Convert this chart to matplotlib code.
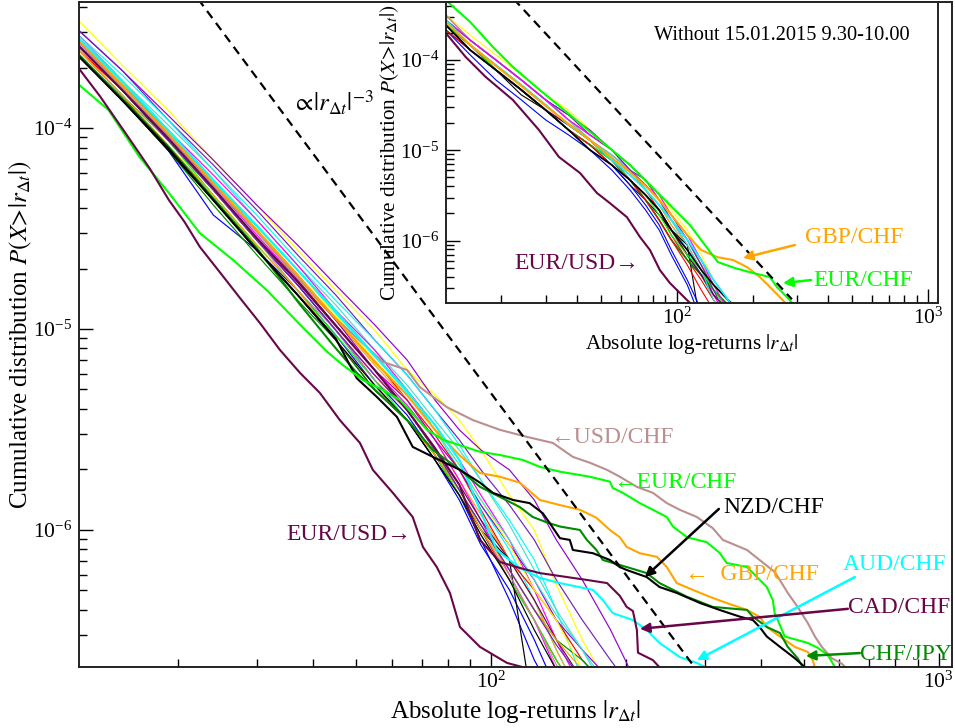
import numpy as np
import matplotlib
matplotlib.use('Agg')
import matplotlib.pyplot as plt
from matplotlib.ticker import NullFormatter

plt.rcParams['font.family'] = ['Liberation Serif', 'DejaVu Serif']
plt.rcParams['mathtext.fontset'] = 'stix'

# grace-like palette
BLACK, RED, GREEN, BLUE = '#000000', '#FF0000', '#00FF00', '#0000FF'
YELLOW, BROWN, VIOLET, CYAN = '#FFFF00', '#BC8F8F', '#9400D3', '#00FFFF'
MAGENTA, ORANGE, INDIGO, MAROON = '#FF00FF', '#FFA500', '#7220BC', '#670748'
TURQ, GREEN4 = '#40E0D0', '#008B00'

# ---------------- main panel: unlabelled pairs on a shared grid ----------------
main_x = [12, 15, 19, 24, 30, 37, 45, 55, 65, 75, 85, 95, 110, 125, 140, 160, 185, 215, 238, 264]

m_yellow = [3.44e-4, 2.06e-4, 1.23e-4, 6.93e-5, 4.14e-5, 2.47e-5, 1.56e-5, 9.89e-6, 6.25e-6, 4.69e-6, 3.52e-6, 2.50e-6, 1.49e-6, 1.00e-6, 5.32e-7, 2.84e-7, 1.60e-7]
m_violet = [3.07e-4, 1.94e-4, 1.16e-4, 6.93e-5, 4.14e-5, 2.62e-5, 1.66e-5, 1.05e-5, 7.01e-6, 4.43e-6, 3.15e-6, 2.50e-6, 1.99e-6, 1.41e-6, 8.92e-7, 5.64e-7, 3.18e-7, 1.60e-7]
m_indigo = [3.07e-4, 1.94e-4, 1.10e-4, 6.55e-5, 3.91e-5, 2.34e-5, 1.48e-5, 8.82e-6, 5.90e-6, 3.95e-6, 2.81e-6, 1.99e-6, 1.33e-6, 8.92e-7, 5.64e-7, 3.56e-7, 2.25e-7, 1.43e-7]
m_cyan = [2.90e-4, 1.84e-4, 1.10e-4, 6.18e-5, 3.69e-5, 2.20e-5, 1.39e-5, 8.82e-6, 5.90e-6, 3.95e-6, 2.65e-6, 1.77e-6, 1.12e-6, 7.09e-7, 4.00e-7, 1.79e-7]
m_turq = [2.74e-4, 1.73e-4, 1.04e-4, 6.18e-5, 3.49e-5, 2.08e-5, 1.32e-5, 7.87e-6, 5.26e-6, 3.52e-6, 2.50e-6, 1.77e-6, 1.06e-6, 6.32e-7, 4.00e-7, 2.53e-7, 1.43e-7]
m_magenta = [2.90e-4, 1.73e-4, 9.78e-5, 5.84e-5, 3.49e-5, 2.08e-5, 1.24e-5, 7.87e-6, 4.97e-6, 3.33e-6, 2.23e-6, 1.49e-6, 8.92e-7, 5.03e-7, 2.84e-7, 1.60e-7]
m_cyan2 = [2.74e-4, 1.73e-4, 9.78e-5, 5.51e-5, 3.29e-5, 1.97e-5, 1.24e-5, 7.43e-6, 4.97e-6, 3.15e-6, 1.99e-6, 1.33e-6, 7.95e-7, 4.48e-7, 2.53e-7, 1.43e-7]
m_red = [2.74e-4, 1.64e-4, 9.78e-5, 5.51e-5, 3.11e-5, 1.86e-5, 1.11e-5, 7.01e-6, 4.43e-6, 2.97e-6, 1.99e-6, 1.26e-6, 7.09e-7, 5.03e-7, 3.56e-7, 2.25e-7, 1.60e-7]
m_orange = [2.59e-4, 1.64e-4, 9.24e-5, 5.21e-5, 3.11e-5, 1.75e-5, 1.11e-5, 6.62e-6, 4.43e-6, 2.81e-6, 1.77e-6, 1.19e-6, 7.09e-7, 4.48e-7, 2.53e-7, 1.43e-7]
m_magenta2 = [2.59e-4, 1.55e-4, 9.24e-5, 5.21e-5, 2.94e-5, 1.75e-5, 1.05e-5, 6.25e-6, 4.18e-6, 2.81e-6, 1.77e-6, 1.12e-6, 5.97e-7, 3.56e-7, 2.01e-7]
m_violet2 = [2.74e-4, 1.64e-4, 9.78e-5, 5.51e-5, 3.11e-5, 1.86e-5, 1.11e-5, 6.25e-6, 4.43e-6, 2.81e-6, 1.99e-6, 1.33e-6, 8.42e-7, 5.64e-7, 3.56e-7, 2.53e-7, 1.79e-7]
m_maroon = [2.59e-4, 1.55e-4, 8.72e-5, 4.92e-5, 2.77e-5, 1.75e-5, 1.05e-5, 6.25e-6, 3.95e-6, 2.50e-6, 1.68e-6, 1.12e-6, 7.09e-7, 4.48e-7, 2.84e-7, 1.79e-7]
m_red2 = [2.45e-4, 1.55e-4, 8.72e-5, 4.92e-5, 2.77e-5, 1.66e-5, 9.89e-6, 5.90e-6, 3.95e-6, 2.50e-6, 1.58e-6, 1.00e-6, 5.64e-7, 3.56e-7, 2.25e-7, 1.43e-7]
m_blue = [2.45e-4, 1.46e-4, 7.78e-5, 3.69e-5, 2.47e-5, 1.56e-5, 9.34e-6, 5.26e-6, 3.52e-6, 2.23e-6, 1.41e-6, 8.42e-7, 5.03e-7, 2.84e-7, 1.60e-7]
m_blue2 = [2.74e-4, 1.55e-4, 8.72e-5, 4.92e-5, 2.77e-5, 1.66e-5, 9.89e-6, 5.57e-6, 3.73e-6, 2.36e-6, 1.49e-6, 8.92e-7, 4.48e-7, 2.25e-7, 1.43e-7]
m_black = [2.31e-4, 1.38e-4, 7.78e-5, 4.38e-5, 2.47e-5, 1.48e-5, 8.82e-6, 4.97e-6, 3.52e-6, 2.23e-6, 1.49e-6, 1.00e-6, 7.09e-7, 1.14e-7]
m_green4 = [2.31e-4, 1.38e-4, 7.78e-5, 4.14e-5, 2.34e-5, 1.39e-5, 8.82e-6, 4.97e-6, 3.52e-6, 2.36e-6, 1.58e-6, 1.06e-6, 6.32e-7, 4.00e-7, 2.84e-7, 2.25e-7, 1.60e-7]
m_green = [2.45e-4, 1.46e-4, 8.72e-5, 4.64e-5, 2.62e-5, 1.56e-5, 9.34e-6, 5.57e-6, 3.52e-6, 2.36e-6, 1.49e-6, 9.45e-7, 5.64e-7, 3.56e-7, 2.25e-7, 1.43e-7]
m_brown = [2.45e-4, 1.46e-4, 8.72e-5, 4.92e-5, 2.77e-5, 1.56e-5, 9.89e-6, 5.57e-6, 3.95e-6, 2.50e-6, 1.58e-6, 1.00e-6, 5.97e-7, 3.56e-7, 2.13e-7, 1.43e-7]
m_orange2 = [2.45e-4, 1.46e-4, 8.24e-5, 4.64e-5, 2.62e-5, 1.56e-5, 8.82e-6, 5.26e-6, 3.52e-6, 2.36e-6, 1.58e-6, 1.00e-6, 6.32e-7, 4.00e-7, 2.84e-7, 2.01e-7]
m_yellow2 = [2.74e-4, 1.73e-4, 9.78e-5, 5.51e-5, 3.11e-5, 1.97e-5, 1.17e-5, 7.01e-6, 4.69e-6, 3.15e-6, 2.11e-6, 1.41e-6, 8.42e-7, 5.03e-7, 3.56e-7, 2.01e-7]
m_turq2 = [2.90e-4, 1.73e-4, 9.78e-5, 5.51e-5, 3.29e-5, 1.97e-5, 1.24e-5, 7.43e-6, 4.97e-6, 3.15e-6, 2.11e-6, 1.41e-6, 8.92e-7, 5.64e-7, 3.77e-7, 2.53e-7, 1.60e-7]
m_indigo2 = [2.59e-4, 1.55e-4, 8.72e-5, 4.92e-5, 2.77e-5, 1.66e-5, 9.89e-6, 5.90e-6, 3.95e-6, 2.50e-6, 1.58e-6, 1.06e-6, 6.32e-7, 4.00e-7, 2.68e-7, 1.79e-7]
m_black2 = [2.31e-4, 1.38e-4, 7.78e-5, 4.38e-5, 2.47e-5, 1.48e-5, 8.82e-6, 5.26e-6, 3.52e-6, 2.23e-6, 1.49e-6, 9.45e-7, 5.64e-7, 3.18e-7, 2.01e-7]

# ---------------- main panel: labelled pairs ----------------
eurusd_x = [12.0, 13.4, 15.2, 17.3, 19.1, 20.7, 22.4, 24.8, 27.5, 30.5, 33.8, 37.5, 41.5, 46.0, 51.0, 54.5, 60.4, 66.9, 70.5, 75.7, 81.0, 85.3, 94.5, 108.6, 128.6]
eurusd_y = [1.99e-4, 1.44e-4, 9.6e-5, 6.3e-5, 4.38e-5, 3.41e-5, 2.56e-5, 1.92e-5, 1.43e-5, 1.07e-5, 7.87e-6, 6.04e-6, 4.81e-6, 3.52e-6, 2.71e-6, 1.99e-6, 1.53e-6, 1.16e-6, 8.23e-7, 6.54e-7, 4.86e-7, 3.29e-7, 2.62e-7, 2.18e-7, 1.97e-7]

eurchf_x = [12.0, 14.0, 16.4, 19.1, 22.4, 26.6, 31.6, 37.5, 43.1, 46.7, 51.8, 57.4, 62.7, 72.0, 78.2, 94.5, 104.7, 117.9, 128.6, 142.6, 166.3, 184.3, 187, 197, 215, 230, 247, 255, 274, 303, 324, 336, 373, 385, 413, 426, 430, 437, 453, 510, 537, 565, 586, 601]
eurchf_y = [1.65e-4, 1.23e-4, 7.2e-5, 4.75e-5, 3.0e-5, 2.20e-5, 1.56e-5, 1.05e-5, 7.7e-6, 6.62e-6, 5.57e-6, 4.97e-6, 4.43e-6, 3.15e-6, 2.81e-6, 2.45e-6, 2.36e-6, 2.23e-6, 2.06e-6, 1.95e-6, 1.84e-6, 1.74e-6, 1.62e-6, 1.53e-6, 1.36e-6, 1.26e-6, 1.16e-6, 1.04e-6, 9.2e-7, 8.7e-7, 7.7e-7, 6.85e-7, 6.54e-7, 6.1e-7, 5.2e-7, 4.48e-7, 3.86e-7, 3.56e-7, 2.95e-7, 2.74e-7, 2.59e-7, 2.39e-7, 2.08e-7, 1.90e-7]

usdchf_x = [12.0, 15.0, 19.0, 24.0, 30.0, 37.0, 45.0, 57.4, 65.0, 69.4, 79.8, 91.2, 104.7, 120, 137.5, 152.4, 166.3, 181.7, 194, 211.6, 230, 247, 264, 288.3, 313, 329.6, 373, 398, 430.5, 446, 460, 484, 510, 529, 548, 577, 607.5, 627]
usdchf_y = [2.68e-4, 1.59e-4, 9.24e-5, 5.21e-5, 3.05e-5, 1.80e-5, 1.13e-5, 6.86e-6, 6.25e-6, 5.14e-6, 4.08e-6, 3.52e-6, 3.15e-6, 2.91e-6, 2.71e-6, 2.31e-6, 2.16e-6, 1.99e-6, 1.84e-6, 1.64e-6, 1.53e-6, 1.36e-6, 1.26e-6, 1.16e-6, 1.02e-6, 8.92e-7, 7.95e-7, 7.09e-7, 6.17e-7, 5.44e-7, 4.86e-7, 4.14e-7, 3.44e-7, 2.95e-7, 2.62e-7, 2.30e-7, 2.16e-7, 2.01e-7]

gbpchf_x = [12.0, 15.0, 19.0, 24.0, 30.0, 37.0, 45.0, 55.0, 65.0, 75.0, 85.0, 94.5, 104.7, 116, 128.6, 142.6, 158, 172, 184.3, 194, 201, 215, 234.7, 247, 260, 282.5, 308, 336, 373, 398, 413, 442, 477, 510, 523, 531]
gbpchf_y = [2.74e-4, 1.64e-4, 9.46e-5, 5.33e-5, 3.11e-5, 1.86e-5, 1.13e-5, 6.86e-6, 4.69e-6, 3.15e-6, 2.36e-6, 1.92e-6, 1.84e-6, 1.72e-6, 1.41e-6, 1.33e-6, 1.26e-6, 1.15e-6, 1.00e-6, 9.2e-7, 8.23e-7, 7.66e-7, 7.35e-7, 6.54e-7, 5.44e-7, 5.03e-7, 4.65e-7, 4.33e-7, 4.00e-7, 3.70e-7, 3.29e-7, 2.95e-7, 2.62e-7, 2.47e-7, 2.25e-7, 2.01e-7]

nzdchf_x = [12.0, 15.0, 19.0, 24.0, 30.0, 37.0, 45.0, 50.2, 55.7, 61.7, 66.9, 74.2, 85.3, 94.5, 101, 112, 122, 130.6, 135.4, 142.6, 150, 152.4, 169, 184.3, 194, 201, 222.8, 238, 260, 293, 324, 360, 384.6, 398, 413, 442, 477, 502, 515]
nzdchf_y = [2.28e-4, 1.38e-4, 7.96e-5, 4.38e-5, 2.47e-5, 1.48e-5, 9.0e-6, 5.68e-6, 4.58e-6, 3.65e-6, 2.59e-6, 2.31e-6, 1.99e-6, 1.72e-6, 1.53e-6, 1.41e-6, 1.36e-6, 1.21e-6, 1.08e-6, 9.1e-7, 8.92e-7, 7.95e-7, 7.66e-7, 7.09e-7, 6.54e-7, 6.32e-7, 5.83e-7, 5.2e-7, 4.86e-7, 4.33e-7, 4.00e-7, 3.70e-7, 3.56e-7, 3.29e-7, 2.95e-7, 2.62e-7, 2.30e-7, 2.08e-7, 1.97e-7]

chfjpy_x = [12.0, 15.0, 19.0, 24.0, 30.0, 37.5, 44.4, 50.2, 57.4, 65.9, 74.2, 85.3, 94.5, 104.7, 116, 124, 133.4, 142.6, 158, 163.8, 172, 177.8, 201, 222.8, 238, 274, 313, 373, 384.6, 413, 442, 460, 484, 497, 505]
chfjpy_y = [2.33e-4, 1.41e-4, 8.13e-5, 4.47e-5, 2.53e-5, 1.32e-5, 8.33e-6, 6.04e-6, 4.58e-6, 3.41e-6, 2.50e-6, 1.99e-6, 1.64e-6, 1.46e-6, 1.30e-6, 1.16e-6, 1.09e-6, 1.04e-6, 1.00e-6, 8.92e-7, 7.95e-7, 7.09e-7, 6.54e-7, 6.10e-7, 5.44e-7, 4.65e-7, 4.14e-7, 4.00e-7, 3.70e-7, 3.29e-7, 3.07e-7, 2.62e-7, 2.30e-7, 2.08e-7, 1.97e-7]

audchf_x = [12.0, 15.0, 19.0, 24.0, 30.0, 37.0, 45.0, 55.0, 65.0, 75.0, 85.0, 94.5, 103.1, 116, 128.6, 142.6, 169, 177.8, 187, 207.5, 222.8, 238, 264, 288, 316]
audchf_y = [2.8e-4, 1.70e-4, 9.78e-5, 5.51e-5, 3.25e-5, 1.97e-5, 1.21e-5, 7.34e-6, 4.86e-6, 3.33e-6, 2.23e-6, 1.26e-6, 7.95e-7, 6.47e-7, 5.77e-7, 5.44e-7, 5.03e-7, 4.48e-7, 3.86e-7, 3.56e-7, 3.18e-7, 2.74e-7, 2.33e-7, 2.18e-7, 1.97e-7]

cadchf_x = [12.0, 15.0, 19.0, 24.0, 30.0, 37.0, 45.0, 55.0, 65.0, 75.0, 85.0, 94.5, 104.7, 116, 128.6, 147.8, 163.8, 181.7, 194, 201, 207.5, 211.8, 213, 230, 241]
cadchf_y = [2.56e-4, 1.55e-4, 8.93e-5, 5.03e-5, 2.84e-5, 1.72e-5, 1.04e-5, 6.25e-6, 3.95e-6, 2.56e-6, 1.68e-6, 8.92e-7, 6.93e-7, 6.47e-7, 6.10e-7, 5.83e-7, 5.64e-7, 5.44e-7, 4.70e-7, 4.14e-7, 3.95e-7, 3.18e-7, 2.45e-7, 2.25e-7, 2.01e-7]

# ---------------- inset: without 15.01.2015 9.30-10.00 ----------------
inset_x = [12, 15, 19, 24, 30, 37, 45, 55, 65, 75, 85, 95, 110, 125, 140, 160, 185, 215, 250]

i_yellow = [3.15e-4, 1.89e-4, 1.14e-4, 6.82e-5, 4.10e-5, 2.79e-5, 1.68e-5, 1.01e-5, 6.88e-6, 4.69e-6, 3.20e-6, 2.18e-6, 1.31e-6, 6.93e-7, 3.66e-7, 2.20e-7, 1.32e-7]
i_violet = [2.77e-4, 1.66e-4, 1.00e-4, 6.01e-5, 3.61e-5, 2.46e-5, 1.68e-5, 1.01e-5, 6.05e-6, 4.69e-6, 2.82e-6, 1.92e-6, 1.02e-6, 6.10e-7, 3.66e-7, 2.20e-7, 1.32e-7]
i_magenta = [2.77e-4, 1.66e-4, 1.00e-4, 6.01e-5, 3.61e-5, 2.17e-5, 1.48e-5, 1.01e-5, 6.88e-6, 4.69e-6, 2.82e-6, 1.69e-6, 8.94e-7, 4.73e-7, 2.50e-7, 1.32e-7]
i_cyan = [2.77e-4, 1.66e-4, 1.00e-4, 6.01e-5, 3.61e-5, 2.17e-5, 1.30e-5, 8.87e-6, 6.05e-6, 3.64e-6, 2.48e-6, 1.49e-6, 7.87e-7, 4.16e-7, 2.20e-7, 1.32e-7]
i_red = [2.44e-4, 1.47e-4, 8.80e-5, 5.29e-5, 3.18e-5, 1.91e-5, 1.30e-5, 7.81e-6, 5.33e-6, 3.64e-6, 2.18e-6, 1.15e-6, 6.10e-7, 3.66e-7, 2.20e-7, 1.32e-7]
i_orange = [2.44e-4, 1.47e-4, 8.80e-5, 5.29e-5, 3.18e-5, 1.91e-5, 1.30e-5, 7.81e-6, 6.05e-6, 3.64e-6, 2.48e-6, 1.49e-6, 8.94e-7, 4.73e-7, 2.84e-7, 1.70e-7]
i_blue = [2.15e-4, 1.14e-4, 6.01e-5, 3.61e-5, 2.17e-5, 1.48e-5, 1.01e-5, 6.05e-6, 3.64e-6, 2.18e-6, 1.31e-6, 6.93e-7, 3.23e-7, 1.32e-7]
i_black = [2.15e-4, 1.29e-4, 7.75e-5, 4.10e-5, 2.79e-5, 1.68e-5, 1.15e-5, 6.88e-6, 4.13e-6, 2.82e-6, 1.92e-6, 1.31e-6, 8.94e-7, 1.02e-7]
i_green4 = [2.44e-4, 1.29e-4, 7.75e-5, 4.66e-5, 2.79e-5, 1.68e-5, 1.15e-5, 7.81e-6, 4.69e-6, 2.82e-6, 1.69e-6, 1.02e-6, 6.10e-7, 4.16e-7, 2.84e-7, 1.94e-7]
i_maroon = [2.44e-4, 1.47e-4, 7.75e-5, 4.66e-5, 2.79e-5, 1.91e-5, 1.30e-5, 7.81e-6, 4.69e-6, 3.20e-6, 2.18e-6, 1.31e-6, 6.93e-7, 4.16e-7, 2.50e-7, 1.70e-7]
i_brown = [3.15e-4, 1.66e-4, 1.00e-4, 6.01e-5, 3.61e-5, 2.17e-5, 1.30e-5, 8.87e-6, 6.05e-6, 3.64e-6, 2.48e-6, 1.69e-6, 1.02e-6, 5.37e-7, 3.23e-7, 2.20e-7, 1.51e-7]
i_turq = [2.77e-4, 1.66e-4, 1.00e-4, 6.01e-5, 3.61e-5, 2.17e-5, 1.30e-5, 8.87e-6, 6.05e-6, 4.13e-6, 2.82e-6, 1.69e-6, 8.94e-7, 4.73e-7, 2.20e-7, 1.32e-7]
i_green = [2.44e-4, 1.47e-4, 7.75e-5, 4.66e-5, 2.79e-5, 1.68e-5, 1.15e-5, 7.81e-6, 4.69e-6, 3.20e-6, 1.92e-6, 1.15e-6, 6.93e-7, 4.73e-7, 2.84e-7, 1.70e-7]
i_indigo = [2.77e-4, 1.66e-4, 1.00e-4, 6.01e-5, 3.61e-5, 2.46e-5, 1.48e-5, 1.01e-5, 6.05e-6, 4.13e-6, 2.82e-6, 1.69e-6, 1.02e-6, 5.37e-7, 2.84e-7, 1.32e-7]
i_red2 = [2.15e-4, 1.29e-4, 7.75e-5, 4.66e-5, 2.79e-5, 1.68e-5, 1.15e-5, 6.88e-6, 4.69e-6, 2.82e-6, 1.69e-6, 1.02e-6, 5.37e-7, 2.84e-7, 1.70e-7]
i_blue2 = [2.44e-4, 1.29e-4, 7.75e-5, 4.66e-5, 2.79e-5, 1.68e-5, 1.01e-5, 6.88e-6, 4.13e-6, 2.48e-6, 1.49e-6, 7.87e-7, 3.66e-7, 1.70e-7]
i_magenta2 = [2.77e-4, 1.66e-4, 1.00e-4, 6.01e-5, 3.61e-5, 2.17e-5, 1.48e-5, 1.01e-5, 6.88e-6, 4.69e-6, 3.20e-6, 1.92e-6, 1.15e-6, 6.10e-7, 3.23e-7, 1.70e-7]
i_black_thick = [2.44e-4, 1.29e-4, 7.75e-5, 4.66e-5, 2.79e-5, 1.68e-5, 1.01e-5, 6.88e-6, 4.69e-6, 3.20e-6, 2.18e-6, 1.31e-6, 7.87e-7, 4.73e-7, 3.23e-7, 2.20e-7, 1.51e-7]
i_cyan_thick = [2.77e-4, 1.47e-4, 8.80e-5, 5.29e-5, 3.18e-5, 1.91e-5, 1.30e-5, 7.81e-6, 5.33e-6, 3.64e-6, 2.48e-6, 1.69e-6, 1.02e-6, 6.10e-7, 3.66e-7, 2.20e-7, 1.32e-7]

in_eurusd_x = [12.0, 14.4, 17.3, 22.2, 28.2, 33.9, 41.1, 48.0, 54.0, 63.2, 71.2, 78.1, 85.5, 93.8, 102.8, 112.7, 123.5]
in_eurusd_y = [1.99e-4, 1.08e-4, 6.49e-5, 3.61e-5, 1.68e-5, 8.43e-6, 5.61e-6, 3.37e-6, 2.61e-6, 1.82e-6, 1.10e-6, 7.87e-7, 4.73e-7, 3.39e-7, 2.63e-7, 2.04e-7, 1.70e-7]
in_eurchf_x = [12.0, 15.0, 18.5, 22.2, 28.4, 37.5, 49.3, 65.0, 78.1, 93.8, 112.7, 129.3, 145.6, 170.2, 200.8, 234.7, 250.3, 274.4, 295]
in_eurchf_y = [4.6e-4, 2.64e-4, 1.39e-4, 8.37e-5, 4.66e-5, 2.46e-5, 1.30e-5, 6.88e-6, 4.13e-6, 2.48e-6, 1.49e-6, 8.94e-7, 5.79e-7, 4.97e-7, 4.38e-7, 3.95e-7, 3.06e-7, 2.37e-7, 1.89e-7]
in_gbpchf_x = [12.0, 15.0, 19.0, 24.0, 30.0, 37.0, 45.0, 55.0, 65.0, 75.0, 85.0, 95.0, 110, 125, 144.3, 167.2, 190, 214, 234.7, 257, 282]
in_gbpchf_y = [2.64e-4, 1.47e-4, 8.59e-5, 5.15e-5, 3.10e-5, 1.96e-5, 1.30e-5, 8.22e-6, 5.75e-6, 4.03e-6, 2.82e-6, 1.92e-6, 1.15e-6, 7.87e-7, 6.58e-7, 6.10e-7, 5.10e-7, 3.95e-7, 3.06e-7, 2.37e-7, 1.80e-7]

# guide line ~ |r|^-3
guide_exp = -3.0
guide_c_main = 4.8
guide_c_inset = 5.3

main_bundle = [(m_yellow, YELLOW), (m_violet, VIOLET), (m_indigo, INDIGO), (m_cyan, CYAN),
               (m_turq, TURQ), (m_magenta, MAGENTA), (m_cyan2, CYAN), (m_red, RED),
               (m_orange, ORANGE), (m_magenta2, MAGENTA), (m_violet2, VIOLET), (m_maroon, MAROON),
               (m_red2, RED), (m_blue, BLUE), (m_blue2, BLUE), (m_black, BLACK),
               (m_green4, GREEN4), (m_green, GREEN), (m_brown, BROWN), (m_orange2, ORANGE),
               (m_yellow2, YELLOW), (m_turq2, TURQ), (m_indigo2, INDIGO), (m_black2, BLACK)]
main_special = [(usdchf_x, usdchf_y, BROWN), (gbpchf_x, gbpchf_y, ORANGE),
                (audchf_x, audchf_y, CYAN), (cadchf_x, cadchf_y, MAROON),
                (chfjpy_x, chfjpy_y, GREEN4), (nzdchf_x, nzdchf_y, BLACK),
                (eurchf_x, eurchf_y, GREEN), (eurusd_x, eurusd_y, MAROON)]
inset_bundle = [(i_yellow, YELLOW, 0.8), (i_violet, VIOLET, 0.8), (i_magenta, MAGENTA, 0.8),
                (i_cyan, CYAN, 0.8), (i_red, RED, 0.8), (i_orange, ORANGE, 0.8),
                (i_blue, BLUE, 0.8), (i_black, BLACK, 0.8), (i_green4, GREEN4, 1.2),
                (i_maroon, MAROON, 1.2), (i_brown, BROWN, 1.2), (i_turq, TURQ, 0.8),
                (i_green, GREEN, 0.8), (i_indigo, INDIGO, 0.8), (i_red2, RED, 0.8),
                (i_blue2, BLUE, 0.8), (i_magenta2, MAGENTA, 0.8), (i_black_thick, BLACK, 1.2),
                (i_cyan_thick, CYAN, 1.2)]
inset_special = [(in_gbpchf_x, in_gbpchf_y, ORANGE), (in_eurchf_x, in_eurchf_y, GREEN),
                 (in_eurusd_x, in_eurusd_y, MAROON)]


def style_axes(a, labelsize):
    a.set_xscale('log')
    a.set_yscale('log')
    a.xaxis.set_minor_formatter(NullFormatter())
    a.yaxis.set_minor_formatter(NullFormatter())
    a.tick_params(which='both', direction='in', top=False, right=False, width=1.0)
    a.tick_params(which='major', length=10, labelsize=labelsize, pad=5)
    a.tick_params(axis='x', which='major', pad=3)
    a.tick_params(which='minor', length=5.5)
    for sp in a.spines.values():
        sp.set_linewidth(1.4)
        sp.set_color('#222222')


fig = plt.figure(figsize=(9.55, 7.28), dpi=100)

# main panel
ax = fig.add_axes([0.0827, 0.0838, 0.9141, 0.9135])
for y, c in main_bundle:
    ax.plot(main_x[:len(y)], y, color=c, lw=0.85)
for x, y, c in main_special:
    ax.plot(x, y, color=c, lw=1.5)
gx = np.array([20.0, 281.0])
ax.plot(gx, guide_c_main * gx ** guide_exp, color='k', lw=1.6, ls=(0, (4, 2.7)))
style_axes(ax, 15.5)
ax.set_xlim(12.03, 1070)
ax.set_ylim(2.08e-7, 4.24e-4)
ax.set_xlabel(r'Absolute log-returns $|r_{\Delta t}|$', fontsize=18)
ax.set_ylabel(r'Cumulative distribution $P(X\!>\!|r_{\Delta t}|)$', fontsize=18)
ax.xaxis.set_label_coords(0.5, -0.047)
ax.yaxis.set_label_coords(-0.052, 0.5)

lab = dict(fontsize=17, va='center', ha='left')
ax.text(36.0, 1.33e-4, r'$\propto\!|r_{\Delta t}|^{-3}$', color='k', fontsize=18, va='center')
ax.text(135.4, 2.87e-6, '\u2190USD/CHF', color=BROWN, **lab)
ax.text(187.3, 1.73e-6, '\u2190EUR/CHF', color=GREEN, **lab)
ax.text(329.6, 1.30e-6, 'NZD/CHF', color=BLACK, **lab)
ax.text(271, 5.97e-7, '\u2190  GBP/CHF', color=ORANGE, **lab)
ax.text(610.5, 6.70e-7, 'AUD/CHF', color=CYAN, **lab)
ax.text(626.5, 4.09e-7, 'CAD/CHF', color=MAROON, **lab)
ax.text(666, 2.39e-7, 'CHF/JPY', color=GREEN4, **lab)
ax.text(35.0, 9.44e-7, 'EUR/USD\u2192', color=MAROON, **lab)

arrows = [((322.8, 1.272e-6), (220.7, 5.83e-7), BLACK),
          ((649.4, 5.83e-7), (288.3, 2.25e-7), CYAN),
          ((626.5, 4.05e-7), (215.1, 3.22e-7), MAROON),
          ((666.4, 2.44e-7), (504.9, 2.36e-7), GREEN4)]
for start, end, c in arrows:
    ax.annotate('', xy=end, xytext=start,
                arrowprops=dict(arrowstyle='-|>', color=c, lw=1.8, mutation_scale=14,
                                shrinkA=0, shrinkB=0))

# inset
ins = fig.add_axes([0.467, 0.5838, 0.5152, 0.4135])
ins.set_facecolor('white')
for y, c, w in inset_bundle:
    ins.plot(inset_x[:len(y)], y, color=c, lw=w)
for x, y, c in inset_special:
    ins.plot(x, y, color=c, lw=1.5)
gx2 = np.array([20.0, 287.0])
ins.plot(gx2, guide_c_inset * gx2 ** guide_exp, color='k', lw=1.6, ls=(0, (4, 2.7)))
style_axes(ins, 15.5)
ins.set_xlim(12.03, 1096)
ins.set_ylim(2.04e-7, 4.38e-4)
ins.set_xlabel(r'Absolute log-returns $|r_{\Delta t}|$', fontsize=15.3)
ins.set_ylabel(r'Cumulative distribution $P(X\!>\!|r_{\Delta t}|)$', fontsize=15.3)
ins.xaxis.set_label_coords(0.5, -0.095)
ins.yaxis.set_label_coords(-0.092, 0.5)

ins.text(0.683, 0.89, 'Without 15.01.2015 9.30-10.00', transform=ins.transAxes,
         fontsize=14.7, ha='center', va='center')
ins.text(323.6, 1.07e-6, 'GBP/CHF', color=ORANGE, **lab)
ins.text(348.3, 3.66e-7, 'EUR/CHF', color=GREEN, **lab)
ins.text(22.6, 5.65e-7, 'EUR/USD\u2192', color=MAROON, **lab)
for start, end, c in [((295, 8.94e-7), (183.2, 6.42e-7), ORANGE),
                      ((342, 3.66e-7), (264.4, 3.39e-7), GREEN)]:
    ins.annotate('', xy=end, xytext=start,
                 arrowprops=dict(arrowstyle='-|>', color=c, lw=1.8, mutation_scale=14,
                                 shrinkA=0, shrinkB=0))

fig.savefig('out.png', dpi=100)
